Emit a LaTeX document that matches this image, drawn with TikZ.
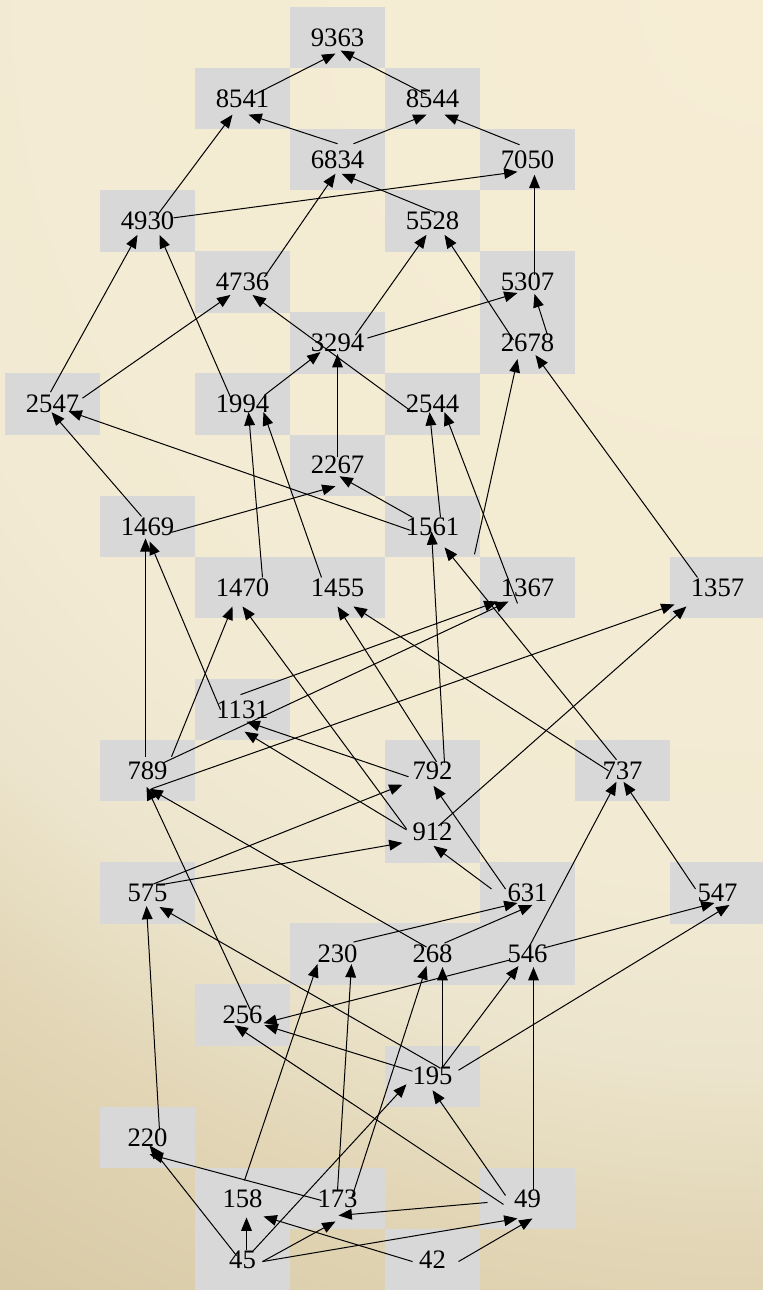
\documentclass[tikz,border=0pt]{standalone}
\usepackage{fontspec}
\setmainfont{Liberation Serif}
\usetikzlibrary{arrows.meta}
\definecolor{boxgrey}{RGB}{216,216,216}
\pgfdeclareradialshading{bgshade}{\pgfpoint{0bp}{0bp}}{rgb(0bp)=(0.969,0.929,0.835); rgb(14.5bp)=(0.949,0.918,0.824); rgb(17.5bp)=(0.925,0.894,0.8); rgb(20.5bp)=(0.886,0.839,0.714); rgb(24.5bp)=(0.847,0.792,0.651); rgb(50bp)=(0.847,0.792,0.651)}
\tikzset{
  gbox/.style={fill=boxgrey, draw=none, minimum width=71.5pt, minimum height=46.1pt, inner sep=0pt, font=\fontsize{20}{24}\selectfont},
  edge/.style={line width=0.75pt, -{Triangle[length=10pt,width=8pt]}}
}
\newcommand\myedge[6]{\draw[edge] ([shift={(#2,#3)}]n#1.center) -- ([shift={(#5,#6)}]n#4.center);}
\begin{document}
\begin{tikzpicture}[x=0.75pt,y=-0.75pt]
\useasboundingbox (0,0) rectangle (763,1290);
\begin{scope}
\clip (0,0) rectangle (763,1290);
\shade[shading=bgshade] (763,0) circle (1520);
\end{scope}
% nodes (grey boxes with labels)
\node[gbox] (n9363) at (337.5,37.55) {9363};
\node[gbox] (n8541) at (242.5,98.65) {8541};
\node[gbox] (n8544) at (432.5,98.65) {8544};
\node[gbox] (n6834) at (337.5,159.75) {6834};
\node[gbox] (n7050) at (527.5,159.75) {7050};
\node[gbox] (n4930) at (147.5,220.85) {4930};
\node[gbox] (n5528) at (432.5,220.85) {5528};
\node[gbox] (n4736) at (242.5,281.95) {4736};
\node[gbox] (n5307) at (527.5,281.95) {5307};
\node[gbox] (n3294) at (337.5,343.05) {3294};
\node[gbox] (n2678) at (527.5,343.05) {2678};
\node[gbox] (n2547) at (52.5,404.15) {2547};
\node[gbox] (n1994) at (242.5,404.15) {1994};
\node[gbox] (n2544) at (432.5,404.15) {2544};
\node[gbox] (n2267) at (337.5,465.25) {2267};
\node[gbox] (n1469) at (147.5,526.35) {1469};
\node[gbox] (n1561) at (432.5,526.35) {1561};
\node[gbox] (n1470) at (242.5,587.45) {1470};
\node[gbox] (n1455) at (337.5,587.45) {1455};
\node[gbox] (n1367) at (527.5,587.45) {1367};
\node[gbox] (n1357) at (717.5,587.45) {1357};
\node[gbox] (n1131) at (242.5,709.65) {1131};
\node[gbox] (n789) at (147.5,770.75) {789};
\node[gbox] (n792) at (432.5,770.75) {792};
\node[gbox] (n737) at (622.5,770.75) {737};
\node[gbox] (n912) at (432.5,831.85) {912};
\node[gbox] (n575) at (147.5,892.95) {575};
\node[gbox] (n631) at (527.5,892.95) {631};
\node[gbox] (n547) at (717.5,892.95) {547};
\node[gbox] (n230) at (337.5,954.05) {230};
\node[gbox] (n268) at (432.5,954.05) {268};
\node[gbox] (n546) at (527.5,954.05) {546};
\node[gbox] (n256) at (242.5,1015.15) {256};
\node[gbox] (n195) at (432.5,1076.25) {195};
\node[gbox] (n220) at (147.5,1137.35) {220};
\node[gbox] (n158) at (242.5,1198.45) {158};
\node[gbox] (n173) at (337.5,1198.45) {173};
\node[gbox] (n49) at (527.5,1198.45) {49};
\node[gbox] (n45) at (242.5,1259.55) {45};
\node[gbox] (n42) at (432.5,1259.55) {42};
% edges
\myedge{8541}{12}{-4}{9363}{-2}{16}
\myedge{8544}{-6}{-4}{9363}{3}{13}
\myedge{6834}{0}{-16}{8541}{6}{16}
\myedge{6834}{16}{-16}{8544}{-6}{16}
\myedge{7050}{-8}{-15}{8544}{12}{16}
\myedge{4930}{10}{-6}{8541}{-10}{16}
\myedge{4930}{26}{-3}{7050}{-10}{12}
\myedge{4736}{22}{-5}{6834}{-2}{14}
\myedge{5528}{4}{-8}{6834}{4}{14}
\myedge{5307}{7}{-7}{7050}{7}{15}
\myedge{2547}{-2}{-12}{4930}{-10}{14}
\myedge{1994}{-12}{-7}{4930}{12}{14}
\myedge{2547}{30}{-6}{4736}{-12}{13}
\myedge{2544}{-20}{8}{4736}{10}{13}
\myedge{1994}{22}{-9}{3294}{-17}{9}
\myedge{3294}{18}{-8}{5528}{-6}{14}
\myedge{3294}{30}{-5}{5307}{-10}{11}
\myedge{2267}{0}{-8}{3294}{0}{11}
\myedge{1561}{-22}{4}{2547}{16}{7}
\myedge{1469}{-6}{-10}{2547}{-1}{8}
\myedge{1470}{20}{-10}{1994}{6}{8}
\myedge{1455}{-16}{-10}{1994}{21}{8}
\myedge{2678}{-14}{-3}{5528}{12}{14}
\myedge{2678}{20}{-8}{5307}{7}{12}
\myedge{1561}{42}{28}{2678}{-10}{16}
\myedge{1367}{-10}{16}{2544}{12}{8}
\myedge{1561}{8}{-9}{2544}{-3}{8}
\myedge{1357}{-20}{-10}{2678}{8}{12}
\myedge{1469}{24}{6}{2267}{-2}{21}
\myedge{1561}{-20}{-9}{2267}{2}{11}
\myedge{789}{-2}{-14}{1469}{-2}{12}
\myedge{1131}{-22}{0}{1469}{2}{15}
\myedge{789}{24}{-14}{1470}{-10}{19}
\myedge{912}{-26}{-3}{1470}{0}{19}
\myedge{792}{4}{-9}{1455}{0}{19}
\myedge{737}{-14}{0}{1455}{16}{19}
\myedge{737}{-6}{-11}{1561}{12}{21}
\myedge{792}{12}{-8}{1561}{-1}{5}
\myedge{1131}{-2}{-15}{1367}{-30}{14}
\myedge{789}{16}{-8}{1367}{-19}{14}
\myedge{789}{4}{18}{1357}{-43}{17}
\myedge{912}{6}{-6}{1357}{-31}{19}
\myedge{792}{-24}{6}{1131}{4}{12}
\myedge{912}{-26}{-2}{1131}{2}{22}
\myedge{256}{8}{-5}{789}{-1}{16}
\myedge{268}{-6}{-7}{789}{2}{18}
\myedge{575}{6}{-9}{792}{-30}{14}
\myedge{575}{12}{-8}{912}{-30}{11}
\myedge{631}{-22}{-4}{792}{1}{15}
\myedge{631}{-36}{-4}{912}{1}{14}
\myedge{546}{2}{-8}{737}{-6}{11}
\myedge{547}{-22}{-4}{737}{1}{11}
\myedge{220}{12}{-7}{575}{-1}{13}
\myedge{195}{8}{-8}{575}{12}{14}
\myedge{158}{2}{-18}{230}{-20}{10}
\myedge{173}{0}{-8}{230}{14}{10}
\myedge{230}{16}{-12}{631}{-10}{10}
\myedge{268}{12}{-11}{631}{5}{12}
\myedge{546}{-18}{6}{256}{21}{8}
\myedge{546}{16}{-6}{547}{-3}{10}
\myedge{195}{26}{-6}{547}{12}{12}
\myedge{195}{-20}{-5}{256}{22}{10}
\myedge{49}{-24}{6}{256}{-8}{10}
\myedge{195}{10}{-9}{268}{10}{13}
\myedge{195}{10}{-9}{546}{-9}{12}
\myedge{173}{14}{0}{268}{-6}{12}
\myedge{49}{6}{-8}{546}{6}{13}
\myedge{45}{10}{-8}{195}{-26}{8}
\myedge{49}{-22}{-3}{195}{0}{14}
\myedge{173}{-16}{2}{220}{2}{17}
\myedge{45}{-6}{-4}{220}{2}{8}
\myedge{45}{4}{-10}{158}{4}{19}
\myedge{42}{-20}{2}{158}{21}{18}
\myedge{49}{-40}{4}{173}{1}{17}
\myedge{45}{20}{2}{173}{-2}{23}
\myedge{45}{20}{2}{49}{-10}{20}
\myedge{42}{26}{2}{49}{5}{20}
\end{tikzpicture}
\end{document}
